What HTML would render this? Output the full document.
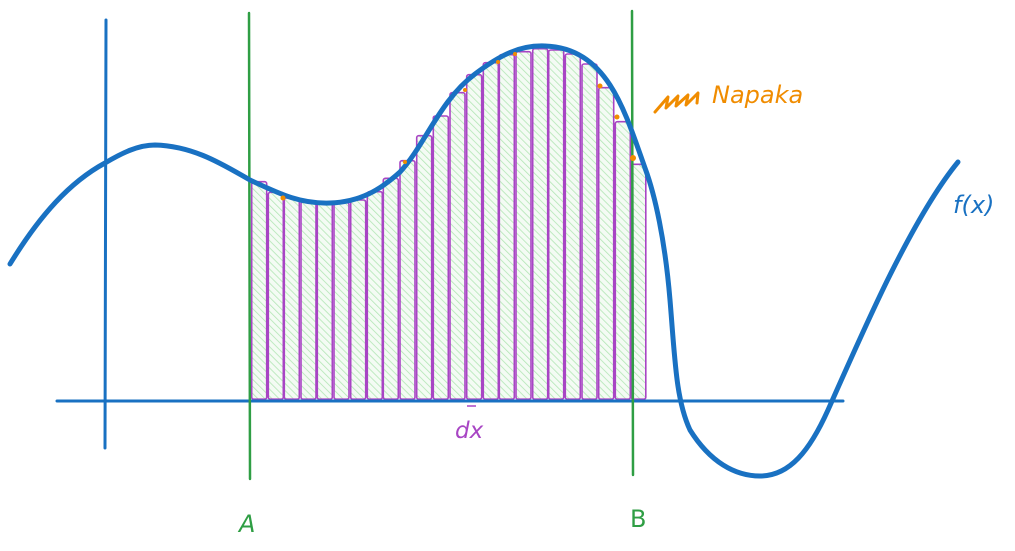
<!DOCTYPE html>
<html><head><meta charset="utf-8"><style>
html,body{margin:0;padding:0;background:#fff;}
svg{display:block;}
text{font-family:"DejaVu Sans","Liberation Sans",sans-serif;}
</style></head><body>
<svg width="1015" height="551" viewBox="0 0 1015 551" xmlns="http://www.w3.org/2000/svg">
<defs>
<pattern id="h" width="5" height="5" patternUnits="userSpaceOnUse" patternTransform="rotate(-45)">
<rect width="5" height="5" fill="#f4fbf4"/>
<line x1="0" y1="0" x2="0" y2="5" stroke="#b2e6b4" stroke-width="1.6"/>
</pattern>
</defs>
<g stroke="#a845c4" stroke-width="1.6" fill="url(#h)">
<rect x="251.7" y="181.7" width="15" height="217.5" rx="2"/>
<rect x="268.3" y="192.3" width="15" height="206.9" rx="2"/>
<rect x="284.3" y="198" width="15" height="201.2" rx="2"/>
<rect x="301" y="201.7" width="15" height="197.5" rx="2"/>
<rect x="317.3" y="203.3" width="15" height="195.9" rx="2"/>
<rect x="334" y="202.7" width="15" height="196.5" rx="2"/>
<rect x="350.7" y="200" width="15" height="199.2" rx="2"/>
<rect x="367.3" y="191.7" width="15" height="207.5" rx="2"/>
<rect x="383.3" y="178.3" width="15" height="220.9" rx="2"/>
<rect x="400" y="160.7" width="15" height="238.5" rx="2"/>
<rect x="416.7" y="135.7" width="15" height="263.5" rx="2"/>
<rect x="433.3" y="116" width="15" height="283.2" rx="2"/>
<rect x="450" y="92.7" width="15" height="306.5" rx="2"/>
<rect x="466.7" y="74.7" width="15" height="324.5" rx="2"/>
<rect x="483.3" y="62.7" width="15" height="336.5" rx="2"/>
<rect x="499.3" y="54.7" width="15" height="344.5" rx="2"/>
<rect x="516" y="51.7" width="15" height="347.5" rx="2"/>
<rect x="532.7" y="48.7" width="15" height="350.5" rx="2"/>
<rect x="548.7" y="50" width="15" height="349.2" rx="2"/>
<rect x="565.3" y="54" width="15" height="345.2" rx="2"/>
<rect x="582" y="64" width="15" height="335.2" rx="2"/>
<rect x="598.7" y="87.7" width="15" height="311.5" rx="2"/>
<rect x="615.3" y="121.7" width="15" height="277.5" rx="2"/>
<rect x="631.3" y="164.3" width="14.5" height="234.9" rx="2"/>
</g>
<line x1="57" y1="401" x2="843" y2="401" stroke="#1971c2" stroke-width="3" stroke-linecap="round"/>
<line x1="106" y1="20" x2="105" y2="448" stroke="#1971c2" stroke-width="3" stroke-linecap="round"/>
<line x1="249" y1="13" x2="250" y2="479" stroke="#2f9e44" stroke-width="2.5" stroke-linecap="round"/>
<line x1="632" y1="11" x2="633" y2="475" stroke="#2f9e44" stroke-width="2.5" stroke-linecap="round"/>
<path d="M10,264 C40,215 70,182 105,163 C122,153 138,145 155,145 C195,146 225,166 250,180 C280,194 300,204 330,203 C360,202 380,190 400,172 C425,145 440,100 475,74 C500,55 520,45 545,46 C575,47 595,62 610,85 C625,108 635,140 645,168 C655,195 665,240 670,300 C675,360 676,400 690,430 C710,462 735,476 760,476 C790,476 810,450 828,410 C848,365 870,315 890,275 C910,235 935,190 958,162" fill="none" stroke="#1971c2" stroke-width="5" stroke-linecap="round"/>
<g fill="#f08c00">
<circle cx="283" cy="198" r="2.5"/>
<circle cx="405" cy="162" r="2"/><circle cx="465" cy="90" r="2"/><circle cx="498" cy="62" r="2"/>
<circle cx="515" cy="54" r="2"/><circle cx="600" cy="86" r="2.5"/><circle cx="617" cy="117" r="2.5"/><circle cx="633" cy="158" r="3"/>
</g>
<path d="M655,112 L668,97 L666,108 L678,96 L676,106 L688,95 L686,105 L698,93 L697,103" fill="none" stroke="#f08c00" stroke-width="3" stroke-linejoin="round" stroke-linecap="round"/>
<text x="712" y="103" font-size="24" fill="#f08c00" font-style="italic">Napaka</text>
<text x="953" y="213" font-size="24" fill="#1971c2" font-style="italic">f(x)</text>
<line x1="467" y1="406" x2="476" y2="406" stroke="#a845c4" stroke-width="1.5"/>
<text x="455" y="438" font-size="23" fill="#a845c4" font-style="italic">dx</text>
<text x="239" y="532" font-size="24" fill="#2f9e44" font-style="italic">A</text>
<text x="630" y="527" font-size="24" fill="#2f9e44">B</text>
</svg>
</body></html>
